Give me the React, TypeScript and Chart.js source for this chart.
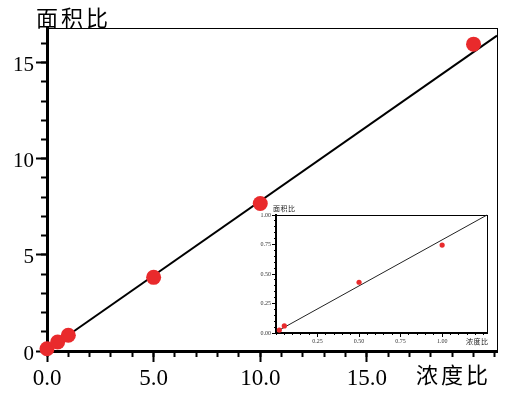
import React, { useEffect, useRef } from 'react';
import { Chart, registerables } from 'chart.js';

Chart.register(...registerables);

// ---- main chart data ----
const mainConc = [0, 0.5, 1.0, 5.0, 10.0, 20.0];
const mainArea = [0.12, 0.47, 0.82, 3.83, 7.67, 15.96];
const mainFitX = [0, 21.1];
const mainFitY = [0.05, 16.4];
const mainXTicks = [0, 5, 10, 15];
const mainYTicks = [0, 5, 10, 15];

// ---- inset chart data ----
const insetConc = [0.02, 0.05, 0.5, 1.0];
const insetArea = [0.025, 0.06, 0.43, 0.745];
const insetFitX = [0.02, 1.27];
const insetFitY = [0.025, 1.0];
const insetXTicks = [0.25, 0.5, 0.75, 1.0];
const insetYTicks = [0, 0.25, 0.5, 0.75, 1.0];

const xTitle = '浓度比';
const yTitle = '面积比';

const SERIF = "'Liberation Serif', 'Times New Roman', serif";
const CJK = "'Noto Sans CJK SC', 'Noto Sans CJK JP', sans-serif";
const RED = '#e92a2c';

const cornerLabels = {
  id: 'cornerLabels',
  afterDraw(chart: any, _args: any, opts: any) {
    const { ctx, chartArea } = chart;
    (opts.items || []).forEach((it: any) => {
      ctx.save();
      ctx.font = `${it.size}px ${CJK}`;
      ctx.fillStyle = it.color || '#000';
      ctx.textBaseline = 'middle';
      ctx.textAlign = 'left';
      try { (ctx as any).letterSpacing = `${it.spacing || 0}px`; } catch (e) { /* ignore */ }
      const x = (it.ax === 'left' ? chartArea.left : chartArea.right) + it.dx;
      const y = (it.ay === 'top' ? chartArea.top : chartArea.bottom) + it.dy;
      ctx.fillText(it.text, x, y);
      ctx.restore();
    });
  },
};

const near = (v: number, list: number[]) => list.some((t) => Math.abs(t - v) < 1e-6);

function pts(xs: number[], ys: number[]) {
  return xs.map((x, i) => ({ x, y: ys[i] }));
}

function makeScales(o: any) {
  const common = { type: 'linear' };
  return {
    x: {
      ...common, axis: 'x', position: 'bottom', weight: 1, min: o.xMin, max: o.xMax,
      afterBuildTicks: (s: any) => { s.ticks = s.ticks.filter((t: any) => near(t.value, o.xTicks)); },
      afterFit: (s: any) => { s.height = o.xHeight; },
      ticks: {
        stepSize: o.xStep, includeBounds: false, autoSkip: false, maxRotation: 0, minRotation: 0,
        padding: o.xPad, color: o.labelColor, font: { family: SERIF, size: o.xFont },
        callback: (v: any) => Number(v).toFixed(o.xDec),
      },
      grid: { drawOnChartArea: false, drawTicks: true, tickLength: o.majorLen, tickWidth: o.tickW, tickColor: '#000', color: '#000' },
      border: { display: true, color: '#000', width: o.axisW },
    },
    xMinor: {
      ...common, axis: 'x', position: 'bottom', weight: 0, min: o.xMin, max: o.xMax,
      afterFit: (s: any) => { s.height = 0; },
      ticks: { stepSize: o.xMinorStep, includeBounds: false, autoSkip: false, display: false },
      grid: { drawOnChartArea: false, drawTicks: true, tickLength: o.minorLen, tickWidth: o.tickW, tickColor: '#000', color: '#000' },
      border: { display: false },
    },
    xTop: {
      ...common, axis: 'x', position: 'top', min: o.xMin, max: o.xMax,
      afterFit: (s: any) => { s.height = 0; },
      ticks: { display: false },
      grid: { drawOnChartArea: false, drawTicks: false },
      border: { display: true, color: '#000', width: 1 },
    },
    y: {
      ...common, axis: 'y', position: 'left', weight: 1, min: o.yMin, max: o.yMax,
      afterBuildTicks: (s: any) => { s.ticks = s.ticks.filter((t: any) => near(t.value, o.yTicks)); },
      afterFit: (s: any) => { s.width = o.yWidth; },
      ticks: {
        stepSize: o.yStep, includeBounds: false, autoSkip: false,
        padding: o.yPad, color: o.labelColor, font: { family: SERIF, size: o.yFont },
        labelOffset: o.yLabelOffset,
        callback: (v: any) => Number(v).toFixed(o.yDec),
      },
      grid: { drawOnChartArea: false, drawTicks: true, tickLength: o.majorLen, tickWidth: o.tickW, tickColor: '#000', color: '#000' },
      border: { display: true, color: '#000', width: o.axisW },
    },
    yMinor: {
      ...common, axis: 'y', position: 'left', weight: 0, min: o.yMin, max: o.yMax,
      afterFit: (s: any) => { s.width = 0; },
      ticks: { stepSize: o.yMinorStep, includeBounds: false, autoSkip: false, display: false },
      grid: { drawOnChartArea: false, drawTicks: true, tickLength: o.minorLen, tickWidth: o.tickW, tickColor: '#000', color: '#000' },
      border: { display: false },
    },
    yRight: {
      ...common, axis: 'y', position: 'right', min: o.yMin, max: o.yMax,
      afterFit: (s: any) => { s.width = 0; },
      ticks: { display: false },
      grid: { drawOnChartArea: false, drawTicks: false },
      border: { display: true, color: '#000', width: 1 },
    },
  };
}

function buildConfig(o: any): any {
  return {
    type: 'scatter',
    data: {
      datasets: [
        {
          type: 'scatter', data: pts(o.px, o.py), order: 0,
          pointRadius: o.r, pointHoverRadius: o.r, pointBackgroundColor: RED, pointBorderColor: RED,
          pointBorderWidth: 0, clip: false,
        },
        {
          type: 'line', data: pts(o.fx, o.fy), order: 1, showLine: true,
          borderColor: o.lineColor, borderWidth: o.lineW, pointRadius: 0, fill: false, tension: 0, clip: false,
        },
      ],
    },
    options: {
      animation: false,
      responsive: false,
      maintainAspectRatio: false,
      devicePixelRatio: 1,
      events: [],
      layout: { padding: o.padding },
      plugins: {
        legend: { display: false },
        tooltip: { enabled: false },
        title: { display: false },
        cornerLabels: { items: o.labels },
      },
      scales: makeScales(o),
    },
    plugins: [cornerLabels],
  };
}

const mainOpts = {
  px: mainConc, py: mainArea, fx: mainFitX, fy: mainFitY, r: 7.5, lineW: 2, lineColor: '#000',
  xMin: 0, xMax: 21.1, xStep: 5, xMinorStep: 1, xTicks: mainXTicks, xDec: 1, xFont: 23, xPad: 3, xHeight: 47,
  yMin: 0, yMax: 16.8, yStep: 5, yMinorStep: 1, yTicks: mainYTicks, yDec: 0, yFont: 21, yPad: 2, yWidth: 47, yLabelOffset: 3,
  majorLen: 11, minorLen: 6, tickW: 2, axisW: 3, labelColor: '#000',
  padding: { left: 0, right: 14, top: 28, bottom: 0 },
  labels: [
    { text: yTitle, ax: 'left', ay: 'top', dx: -11, dy: -10, size: 22, spacing: 3 },
    { text: xTitle, ax: 'right', ay: 'bottom', dx: -81, dy: 24, size: 22, spacing: 3 },
  ],
};

const insetOpts = {
  px: insetConc, py: insetArea, fx: insetFitX, fy: insetFitY, r: 2.6, lineW: 1, lineColor: '#222',
  xMin: 0, xMax: 1.27, xStep: 0.25, xMinorStep: 0.05, xTicks: insetXTicks, xDec: 2, xFont: 6, xPad: 1, xHeight: 15,
  yMin: 0, yMax: 1.0, yStep: 0.25, yMinorStep: 0.05, yTicks: insetYTicks, yDec: 2, yFont: 6, yPad: 1, yWidth: 26, yLabelOffset: 0,
  majorLen: 4, minorLen: 2, tickW: 1, axisW: 2, labelColor: '#333',
  padding: { left: 0, right: 9, top: 17, bottom: 0 },
  labels: [
    { text: yTitle, ax: 'left', ay: 'top', dx: -3, dy: -7, size: 7, spacing: 0.5, color: '#222' },
    { text: xTitle, ax: 'right', ay: 'bottom', dx: -21, dy: 8, size: 7, spacing: 0.5, color: '#222' },
  ],
};

function ChartCanvas({ opts, style, w, h }: { opts: any; style: any; w: number; h: number }) {
  const ref = useRef<HTMLCanvasElement | null>(null);
  useEffect(() => {
    if (!ref.current) return;
    const chart = new Chart(ref.current, buildConfig(opts));
    return () => chart.destroy();
  }, [opts]);
  return <canvas ref={ref} width={w} height={h} style={{ position: 'absolute', width: w, height: h, ...style }} />;
}

export default function App() {
  return (
    <div style={{ position: 'absolute', left: 0, top: 0, width: 511, height: 398, background: '#fff', overflow: 'hidden' }}>
      <ChartCanvas opts={mainOpts} w={511} h={398} style={{ left: 0, top: 0 }} />
      <ChartCanvas opts={insetOpts} w={246} h={150} style={{ left: 250, top: 198 }} />
    </div>
  );
}
